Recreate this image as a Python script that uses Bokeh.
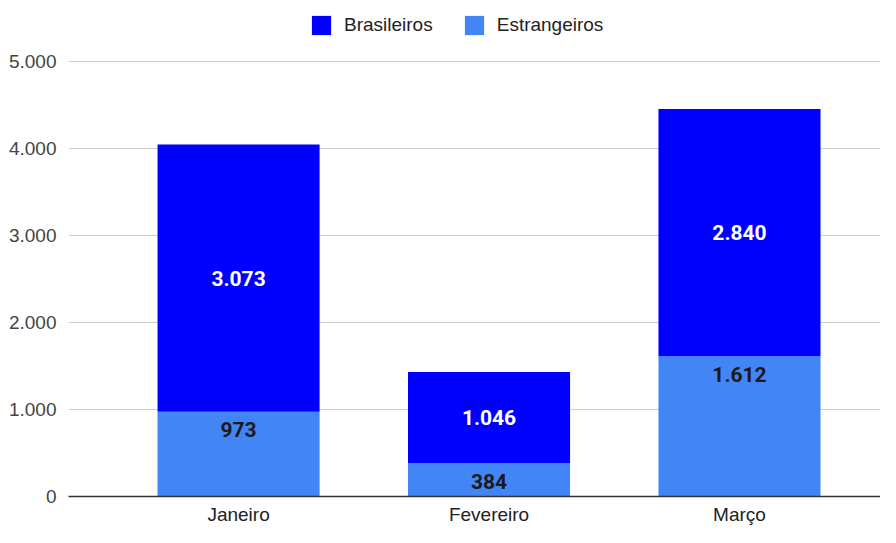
from bokeh.plotting import figure
from bokeh.models import ColumnDataSource, Legend, LegendItem, LabelSet, FixedTicker, Range1d
from bokeh.core.properties import value
from bokeh.embed import file_html
from bokeh.resources import INLINE

months = ["Janeiro", "Fevereiro", "Março"]
estrangeiros = [973, 384, 1612]
brasileiros = [3073, 1046, 2840]
y_ticks = [0, 1000, 2000, 3000, 4000, 5000]
y_tick_labels = ["0", "1.000", "2.000", "3.000", "4.000", "5.000"]

C_BRA = "#0000FF"
C_EST = "#4285F4"


def fmt(v):
    return f"{v:,}".replace(",", ".")


xpos = list(range(len(months)))

src = ColumnDataSource(dict(
    x=xpos,
    month=months,
    est=estrangeiros,
    bra=brasileiros,
    bra_y=[e + b / 2 for e, b in zip(estrangeiros, brasileiros)],
    est_y=estrangeiros,
    bra_lbl=[fmt(v) for v in brasileiros],
    est_lbl=[fmt(v) for v in estrangeiros],
))

p = figure(
    x_range=Range1d(-0.679, 2.563),
    y_range=Range1d(0, 5700),
    width=880, height=527,
    output_backend="svg", toolbar_location=None,
    min_border_left=68, min_border_right=0, min_border_top=0, min_border_bottom=22,
)
p.outline_line_color = None
p.background_fill_color = "white"

p.xgrid.grid_line_color = None
p.ygrid.grid_line_color = "#cccccc"
p.ygrid.grid_line_width = 1
p.ygrid.ticker = FixedTicker(ticks=y_ticks)

p.yaxis.ticker = FixedTicker(ticks=y_ticks)
p.yaxis.major_label_overrides = {t: l for t, l in zip(y_ticks, y_tick_labels)}
p.yaxis.axis_line_color = None
p.yaxis.major_tick_line_color = None
p.yaxis.minor_tick_line_color = None
p.yaxis.major_label_standoff = 6
p.yaxis.major_label_text_font = "Liberation Sans"
p.yaxis.major_label_text_font_size = "19px"
p.yaxis.major_label_text_color = "#444444"

p.xaxis.ticker = FixedTicker(ticks=xpos)
p.xaxis.major_label_overrides = {i: m for i, m in zip(xpos, months)}
p.xaxis.axis_line_color = "#333333"
p.xaxis.axis_line_width = 1.5
p.xaxis.major_tick_line_color = None
p.xaxis.minor_tick_line_color = None
p.xaxis.major_label_standoff = 1
p.xaxis.major_label_text_font = "Liberation Sans"
p.xaxis.major_label_text_font_size = "19px"
p.xaxis.major_label_text_color = "#222222"

r_est, r_bra = p.vbar_stack(["est", "bra"], x="x", width=0.647, source=src,
                            fill_color=[C_EST, C_BRA], line_color=None)

p.add_layout(LabelSet(x="x", y="bra_y", text="bra_lbl", source=src,
                      text_align="center", text_baseline="middle",
                      text_color="white", text_font=value("Roboto"),
                      text_font_size="21px", text_font_style="bold"))
p.add_layout(LabelSet(x="x", y="est_y", text="est_lbl", source=src,
                      y_offset=-18,
                      text_align="center", text_baseline="middle",
                      text_color="#1a1a1a", text_font=value("Roboto"),
                      text_font_size="21px", text_font_style="bold"))

legend = Legend(
    items=[LegendItem(label="Brasileiros", renderers=[r_bra]),
           LegendItem(label="Estrangeiros", renderers=[r_est])],
    orientation="horizontal", location=(241, 459),
    glyph_width=24, glyph_height=24, label_standoff=11, spacing=29,
    padding=0, margin=0, border_line_color=None, background_fill_alpha=0,
    label_text_font="Liberation Sans", label_text_font_size="19px",
    label_text_color="#222222",
)
p.add_layout(legend, "center")

open("out.html", "w").write(file_html(p, INLINE))
